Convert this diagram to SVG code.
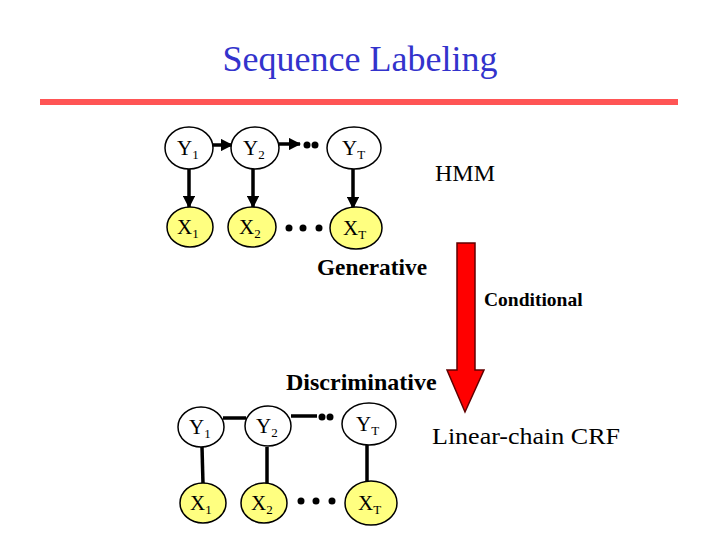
<svg xmlns="http://www.w3.org/2000/svg" width="720" height="540" viewBox="0 0 720 540">
<style>
.n{fill:#fff;stroke:#000;stroke-width:1.5}
.x{fill:#ffff80;stroke:#000;stroke-width:1.5}
.t{font-family:"Liberation Serif",serif;font-size:21px;fill:#000}
.s{font-size:13px}
.e{stroke:#000;stroke-width:3.5;fill:none}
.d{fill:#000}
.lb{font-family:"Liberation Serif",serif;font-size:24px;fill:#000}
</style>
<defs>
<marker id="ah" viewBox="0 0 10 10" refX="9" refY="5" markerWidth="3.5" markerHeight="3.5" orient="auto" markerUnits="strokeWidth">
<path d="M0,0 L10,5 L0,10 z" fill="#000"/>
</marker>
</defs>
<rect width="720" height="540" fill="#fff"/>
<text x="360" y="71" text-anchor="middle" font-family="Liberation Serif,serif" font-size="36" fill="#3333cc">Sequence Labeling</text>
<rect x="40" y="99" width="638" height="6" fill="#ff5555"/>

<g id="connectors">
<line class="e" x1="212" y1="145" x2="232" y2="145" marker-end="url(#ah)"/>
<line class="e" x1="279" y1="144" x2="300" y2="144" marker-end="url(#ah)"/>
<line class="e" x1="189" y1="169" x2="189" y2="207" marker-end="url(#ah)"/>
<line class="e" x1="253" y1="169" x2="253" y2="207" marker-end="url(#ah)"/>
<line class="e" x1="353" y1="169" x2="353" y2="208" marker-end="url(#ah)"/>
<line class="e" x1="223" y1="418" x2="246" y2="418"/>
<line class="e" x1="291" y1="416" x2="317" y2="416"/>
<line class="e" x1="202" y1="447" x2="203" y2="484"/>
<line class="e" x1="267" y1="447" x2="267" y2="484"/>
<line class="e" x1="367" y1="445" x2="367" y2="481"/>
</g>

<g id="dots">
<circle class="d" cx="307" cy="145" r="3.5"/><circle class="d" cx="315" cy="145" r="3.5"/>
<circle class="d" cx="289" cy="228" r="3.5"/><circle class="d" cx="303" cy="228" r="3.5"/><circle class="d" cx="319" cy="228" r="3.5"/>
<circle class="d" cx="322" cy="417" r="3.5"/><circle class="d" cx="330" cy="417" r="3.5"/>
<circle class="d" cx="301" cy="501" r="3.5"/><circle class="d" cx="316" cy="501" r="3.5"/><circle class="d" cx="332" cy="501" r="3.5"/>
</g>

<g id="hY1"><ellipse class="n" cx="189" cy="148" rx="24" ry="21"/><text class="t" x="177" y="155">Y<tspan class="s" dy="4">1</tspan></text></g>
<g id="hY2"><ellipse class="n" cx="255" cy="148" rx="24" ry="21"/><text class="t" x="243" y="155">Y<tspan class="s" dy="4">2</tspan></text></g>
<g id="hYT"><ellipse class="n" cx="354" cy="148" rx="27" ry="21"/><text class="t" x="342" y="155">Y<tspan class="s" dy="4">T</tspan></text></g>
<g id="hX1"><ellipse class="x" cx="190" cy="227" rx="23" ry="20"/><text class="t" x="177" y="234">X<tspan class="s" dy="4">1</tspan></text></g>
<g id="hX2"><ellipse class="x" cx="252" cy="227" rx="24" ry="20"/><text class="t" x="239" y="234">X<tspan class="s" dy="4">2</tspan></text></g>
<g id="hXT"><ellipse class="x" cx="356" cy="228" rx="26" ry="21"/><text class="t" x="343" y="235">X<tspan class="s" dy="4">T</tspan></text></g>

<g id="cY1"><ellipse class="n" cx="201" cy="427" rx="23" ry="20"/><text class="t" x="189" y="434">Y<tspan class="s" dy="4">1</tspan></text></g>
<g id="cY2"><ellipse class="n" cx="268" cy="426" rx="23" ry="20"/><text class="t" x="256" y="433">Y<tspan class="s" dy="4">2</tspan></text></g>
<g id="cYT"><ellipse class="n" cx="369" cy="424" rx="27" ry="21"/><text class="t" x="356" y="431">Y<tspan class="s" dy="4">T</tspan></text></g>
<g id="cX1"><ellipse class="x" cx="203" cy="503" rx="23" ry="20"/><text class="t" x="190" y="510">X<tspan class="s" dy="4">1</tspan></text></g>
<g id="cX2"><ellipse class="x" cx="264" cy="503" rx="23" ry="20"/><text class="t" x="251" y="510">X<tspan class="s" dy="4">2</tspan></text></g>
<g id="cXT"><ellipse class="x" cx="371" cy="503" rx="26" ry="22"/><text class="t" x="358" y="510">X<tspan class="s" dy="4">T</tspan></text></g>

<g id="arrow">
<path d="M457,243 L475,243 L475,370 L484,370 L465,412 L447,370 L457,370 Z" fill="#ff0000" stroke="#600000" stroke-width="1.5"/>
</g>

<text class="lb" x="435" y="181">HMM</text>
<text class="lb" x="317" y="275" font-weight="bold" textLength="110" lengthAdjust="spacingAndGlyphs">Generative</text>
<text x="484" y="306" font-family="Liberation Serif,serif" font-size="19.5" font-weight="bold">Conditional</text>
<text class="lb" x="286" y="390" font-weight="bold">Discriminative</text>
<text class="lb" x="432" y="444" font-size="25" textLength="188" lengthAdjust="spacingAndGlyphs">Linear-chain CRF</text>
</svg>
